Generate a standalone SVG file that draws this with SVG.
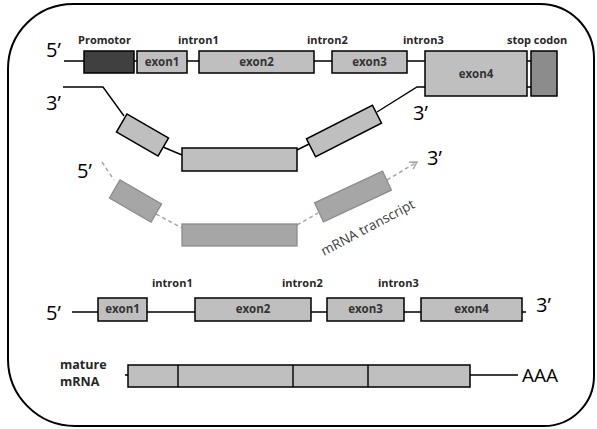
<svg xmlns="http://www.w3.org/2000/svg" width="597" height="429" viewBox="0 0 597 429">
<style>
.ex{fill:#bfbfbf;stroke:#000;stroke-width:1.5}
.gx{fill:#a6a6a6;stroke:#8c8c8c;stroke-width:1.3}
.ln{stroke:#000;stroke-width:1.4;fill:none}
.dl{stroke:#a6a6a6;stroke-width:1.5;stroke-dasharray:4 3;fill:none}
.lb{font-family:"Open Sans","DejaVu Sans",sans-serif;font-weight:bold;font-size:11px;fill:#262626}
.el{font-family:"Open Sans","DejaVu Sans",sans-serif;font-weight:bold;font-size:11.5px;fill:#333;text-anchor:middle}
.big{font-family:"Open Sans","DejaVu Sans",sans-serif;font-size:20px;fill:#000}
</style>
<defs>
<marker id="arr" markerUnits="userSpaceOnUse" markerWidth="12" markerHeight="12" refX="8" refY="5" orient="auto">
<path d="M1,1 L8,5 L1,9" fill="none" stroke="#a6a6a6" stroke-width="1.5"/>
</marker>
</defs>
<rect width="597" height="429" fill="#fff"/>
<path d="M73,4 H540 A54,54 0 0 1 594,58 V376 A50,50 0 0 1 544,426 H75 A67,67 0 0 1 8,359 V69 A65,65 0 0 1 73,4 Z" fill="none" stroke="#000" stroke-width="2"/>

<g id="connectors">
<path class="ln" d="M64,61 H84 M134,61 H137 M187,61 H199 M314,61 H332 M407,61 H425 M527,61 H531 M527,87 H531"/>
<path class="ln" d="M63,87 H103 L124,116"/>
<path class="ln" d="M163,147 L182,155"/>
<path class="ln" d="M297,150 L309,144"/>
<path class="ln" d="M377,112 L417,87 H425"/>
<path class="dl" d="M102,162 L114,180"/>
<path class="dl" d="M156,214 L182,228"/>
<path class="dl" d="M297,225 L318,213"/>
<path class="dl" d="M387,180 L417,162" marker-end="url(#arr)"/>
<path class="ln" d="M72,312 H98 M147,312 H195 M311,312 H327 M404,312 H421 M522,312 H526"/>
<path class="ln" d="M125,375 H128 M470,375 H518"/>
</g>

<g id="labels-row1">
<text class="lb" x="78" y="44">Promotor</text>
<text class="lb" x="178" y="44">intron1</text>
<text class="lb" x="307" y="44">intron2</text>
<text class="lb" x="403" y="44">intron3</text>
<text class="lb" x="507" y="44">stop codon</text>
<text class="big" x="46" y="57">5’</text>
</g>
<g id="promotor"><rect x="84" y="51" width="50" height="22" fill="#404040" stroke="#000" stroke-width="1.5"/></g>
<g id="g-exon1"><rect class="ex" x="137" y="51" width="50" height="22"/><text class="el" x="162" y="66">exon1</text></g>
<g id="g-exon2"><rect class="ex" x="199" y="51" width="115" height="22"/><text class="el" x="256.5" y="66">exon2</text></g>
<g id="g-exon3"><rect class="ex" x="332" y="51" width="75" height="22"/><text class="el" x="369.5" y="66">exon3</text></g>
<g id="g-exon4"><rect class="ex" x="425" y="51" width="102" height="45"/><text class="el" x="476" y="78">exon4</text></g>
<g id="stop-codon"><rect x="531" y="51" width="26" height="45" fill="#8c8c8c" stroke="#000" stroke-width="1.5"/></g>

<g id="pre-mrna">
<text class="big" x="46" y="110">3’</text>
<text class="big" x="413" y="120">3’</text>
<rect class="ex" x="-24" y="-10.5" width="48" height="21" transform="translate(142.5,135) rotate(30)"/>
<rect class="ex" x="182" y="148" width="115" height="23"/>
<rect class="ex" x="-37" y="-10" width="74" height="20" transform="translate(344,131) rotate(-27)"/>
</g>

<g id="mrna-transcript">
<text class="big" x="77" y="178">5’</text>
<text class="big" x="427" y="165">3’</text>
<rect class="gx" x="-24" y="-10.5" width="48" height="21" transform="translate(135.5,201) rotate(30)"/>
<rect class="gx" x="182" y="224" width="115" height="22"/>
<rect class="gx" x="-37.5" y="-10.5" width="75" height="21" transform="translate(353,196.5) rotate(-25)"/>
<text x="0" y="0" transform="translate(324,256) rotate(-28)" font-family="Open Sans, DejaVu Sans, sans-serif" font-size="13.5" fill="#3a3a3a">mRNA transcript</text>
</g>

<g id="spliced">
<text class="lb" x="152" y="287">intron1</text>
<text class="lb" x="282" y="287">intron2</text>
<text class="lb" x="378" y="287">intron3</text>
<text class="big" x="46" y="320">5’</text>
<text class="big" x="536" y="312">3’</text>
<g id="s-exon1"><rect class="ex" x="98" y="298" width="49" height="23"/><text class="el" x="122.5" y="313">exon1</text></g>
<g id="s-exon2"><rect class="ex" x="195" y="298" width="116" height="23"/><text class="el" x="253" y="313">exon2</text></g>
<g id="s-exon3"><rect class="ex" x="327" y="298" width="77" height="23"/><text class="el" x="365.5" y="313">exon3</text></g>
<g id="s-exon4"><rect class="ex" x="421" y="298" width="101" height="23"/><text class="el" x="471.5" y="313">exon4</text></g>
</g>

<g id="mature-mrna">
<text font-family="Open Sans, DejaVu Sans, sans-serif" font-weight="bold" font-size="12.5" fill="#262626"><tspan x="60" y="369">mature</tspan><tspan x="60" y="386">mRNA</tspan></text>
<rect class="ex" x="128" y="365" width="342" height="22"/>
<path class="ln" d="M178,365 V387 M293,365 V387 M368,365 V387" stroke-width="1.5"/>
<text font-family="Open Sans, DejaVu Sans, sans-serif" font-size="19" fill="#000" x="522" y="382">AAA</text>
</g>
</svg>
